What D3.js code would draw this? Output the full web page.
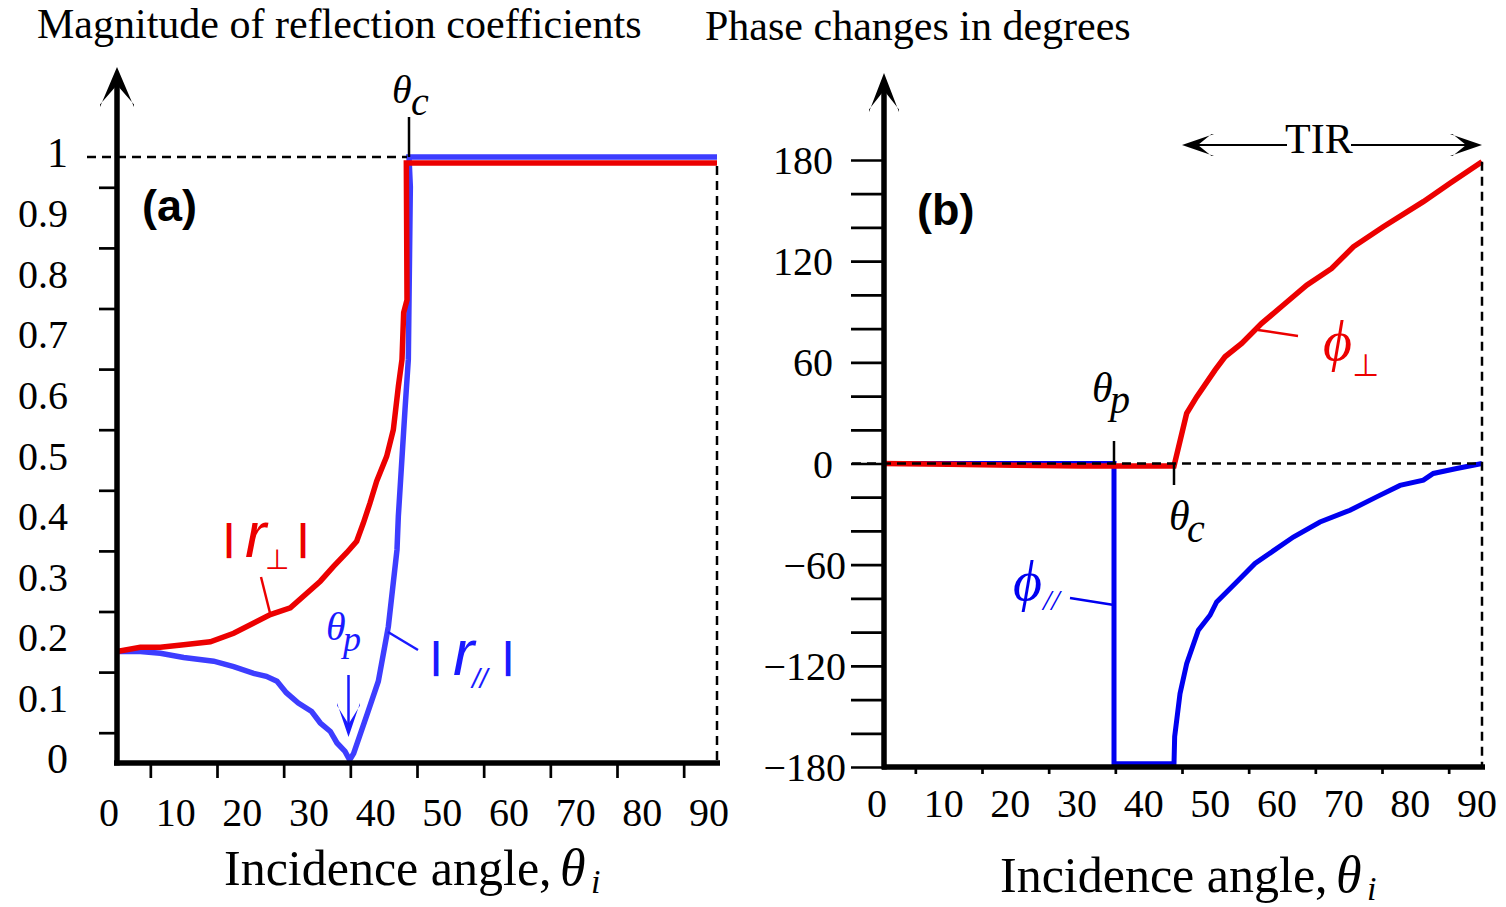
<!DOCTYPE html>
<html>
<head>
<meta charset="utf-8">
<script src="https://cdn.jsdelivr.net/npm/d3@7"></script>
<style>
  html, body { margin: 0; padding: 0; background: #ffffff; }
  svg { display: block; }
</style>
</head>
<body>
<svg id="fig" width="1506" height="907"></svg>
<script>
// ---------- tick values and labels ----------
const angleTicks = [0, 10, 20, 30, 40, 50, 60, 70, 80, 90];
const angleMinorTicks = [5, 15, 25, 35, 45, 55, 65, 75, 85];
const magTicks = [0, 0.1, 0.2, 0.3, 0.4, 0.5, 0.6, 0.7, 0.8, 0.9, 1];
const magMinorTicks = [0.05, 0.15, 0.25, 0.35, 0.45, 0.55, 0.65, 0.75, 0.85, 0.95];
const phaseTicks = [-180, -120, -60, 0, 60, 120, 180];
const phaseMinorTicks = [-160, -140, -100, -80, -40, -20, 20, 40, 80, 100, 140, 160];

// ---------- (a) magnitude of reflection coefficients ----------
const rPerpAngle = [0, 3.5, 6.5, 10, 14, 17.5, 23, 26, 30.5, 32.45, 34.45, 35.95, 36.95, 37.95, 38.95, 40.45, 41.45, 42.2, 42.75, 43.0, 43.5, 43.4, 90];
const rPerpMag   = [0.184, 0.191, 0.191, 0.195, 0.200, 0.214, 0.245, 0.256, 0.300, 0.324, 0.347, 0.366, 0.396, 0.429, 0.465, 0.506, 0.550, 0.621, 0.666, 0.743, 0.764, 0.990, 0.990];

const rParAngle = [0, 3.5, 6.5, 10, 14.5, 17.5, 20.5, 22.4, 24, 25.4, 27.2, 29.2, 30.5, 32, 33, 34.2, 34.9, 35.5, 37.5, 39.2, 40.7, 42, 42.2, 43.2, 43.7, 44.0, 43.8, 90];
const rParMag   = [0.184, 0.184, 0.181, 0.174, 0.168, 0.159, 0.148, 0.143, 0.135, 0.116, 0.099, 0.085, 0.066, 0.052, 0.033, 0.019, 0.005, 0.016, 0.080, 0.135, 0.225, 0.352, 0.407, 0.583, 0.666, 0.951, 1.0, 1.0];

// ---------- (b) phase changes ----------
const phiPerpAngle = [0, 10, 20, 30, 40, 43.8, 45.7, 47.2, 49.95, 51.45, 53.95, 56.95, 60.2, 63.7, 67.45, 70.7, 75.2, 81.2, 85.2, 90];
const phiPerpDeg   = [0, -0.5, -1, -1.5, -1.5, -1.5, 29.7, 39.5, 55.4, 63.3, 71.2, 83.1, 94, 105.8, 115.7, 128.5, 140.4, 155.3, 166.2, 179];

const phiParAngle = [0, 34.8, 34.8, 43.8, 43.9, 44.7, 45.7, 47.45, 49.2, 50.2, 53.2, 55.95, 61.7, 65.7, 70.2, 74.2, 77.7, 81.2, 82.7, 86.2, 90];
const phiParDeg   = [0, 0, -178, -178, -162, -136.5, -118.7, -98.9, -90, -82.1, -70.3, -59.3, -43.6, -34.7, -27.7, -19.8, -13, -9.9, -5.9, -3, 0];

// special angles
const thetaC = 43.8;
const thetaP = 34.8;

// ---------- styling ----------
const RED = "#ec0000";
const BLUE_A = "#3d3dff";
const BLUE_B = "#0000f0";
const LABEL_BLUE = "#1a1aff";
const SERIF = "'Liberation Serif', 'Times New Roman', serif";
const SANS = "'Liberation Sans', Arial, sans-serif";
const SYMBOL = "'DejaVu Sans', sans-serif";

const svg = d3.select("#fig");

// ---------- scales ----------
const xMag = d3.scaleLinear().domain([0, 90]).range([117, 717]);
const yMag = d3.scaleLinear().domain([0, 1]).range([763, 157]);
const xPh = d3.scaleLinear().domain([0, 90]).range([882, 1482]);
const yPh = d3.scaleLinear().domain([-180, 180]).range([767, 160]);

const zip = (a, b) => a.map((v, i) => [v, b[i]]);

// filled "stealth" arrowhead pointing along angle (deg), tip at (x, y)
function arrowHead(g, x, y, angle, L, H, notch, color) {
  const pts = [[0, 0], [-L, -H], [-L + 2.5, -H], [-notch * L, 0], [-L + 2.5, H], [-L, H]];
  g.append("path")
    .attr("d", "M" + pts.map(p => p.join(",")).join("L") + "Z")
    .attr("transform", `translate(${x},${y}) rotate(${angle})`)
    .attr("fill", color);
}

// one text element made of positioned pieces (symbols with sub-scripts etc.)
function rich(g, parts, fill) {
  const t = g.append("text").attr("fill", fill || "#000");
  parts.forEach(p => {
    t.append("tspan")
      .attr("x", p.x).attr("y", p.y)
      .attr("font-family", p.family || SERIF)
      .attr("font-size", p.size || 40)
      .attr("font-style", p.style || "normal")
      .attr("font-weight", p.weight || "normal")
      .text(p.t);
  });
  return t;
}

function seg(g, x1, y1, x2, y2, color, w, dash) {
  const l = g.append("line")
    .attr("x1", x1).attr("y1", y1).attr("x2", x2).attr("y2", y2)
    .attr("stroke", color).attr("stroke-width", w);
  if (dash) l.attr("stroke-dasharray", dash);
  return l;
}

// ======================= panel (a) =======================
const ga = svg.append("g");

const magLine = d3.line().x(d => xMag(d[0])).y(d => yMag(d[1]));

ga.append("path").datum(zip(rParAngle, rParMag))
  .attr("d", magLine).attr("fill", "none")
  .attr("stroke", BLUE_A).attr("stroke-width", 5.5).attr("stroke-linejoin", "miter");
ga.append("path").datum(zip(rPerpAngle, rPerpMag))
  .attr("d", magLine).attr("fill", "none")
  .attr("stroke", RED).attr("stroke-width", 5.5).attr("stroke-linejoin", "miter");

// reference lines at |r| = 1 and θi = 90°
seg(ga, 87, yMag(1), xMag(thetaC) - 2, yMag(1), "#000", 2.5, "9,6");
seg(ga, xMag(90), yMag(0.985), xMag(90), yMag(0), "#000", 2.5, "9,6");

// axis ticks
const yAxisA = ga.append("g").attr("transform", `translate(${xMag(0)},0)`);
yAxisA.call(d3.axisLeft(yMag).tickValues(magTicks).tickSize(30).tickFormat(""));
yAxisA.call(d3.axisLeft(yMag).tickValues(magMinorTicks).tickSize(18).tickFormat(""));
const xAxisA = ga.append("g").attr("transform", `translate(0,${yMag(0)})`);
xAxisA.call(d3.axisBottom(xMag).tickValues(angleTicks).tickSize(27).tickFormat(""));
xAxisA.call(d3.axisBottom(xMag).tickValues(angleMinorTicks).tickSize(15).tickFormat(""));
ga.selectAll(".domain").remove();
ga.selectAll(".tick line").attr("stroke", "#000").attr("stroke-width", 2.7);

// axis lines
seg(ga, xMag(0), yMag(0) + 2.5, xMag(0), 80, "#000", 5.5);
seg(ga, xMag(0) - 3, yMag(0), xMag(90) + 3, yMag(0), "#000", 5.5);
arrowHead(ga, xMag(0), 67, -90, 40, 17, 0.45, "#000");

// tick labels
ga.selectAll("text.ylab").data(magTicks).enter().append("text")
  .attr("class", "ylab")
  .attr("x", 68).attr("y", d => yMag(d) + 9.5)
  .attr("text-anchor", "end")
  .attr("font-family", SERIF)
  .attr("font-size", d => (d === 0 || d === 1) ? 42 : 40)
  .text(d => String(d));
ga.selectAll("text.xlab").data(angleTicks).enter().append("text")
  .attr("class", "xlab")
  .attr("x", d => xMag(d) - 8).attr("y", 826)
  .attr("text-anchor", "middle")
  .attr("font-family", SERIF).attr("font-size", 40)
  .text(d => String(d));

// titles
rich(ga, [{ t: "Magnitude of reflection coefficients", x: 37, y: 38, size: 42 }]);
rich(ga, [
  { t: "Incidence angle,", x: 224, y: 885, size: 50 },
  { t: "θ", x: 560, y: 885, size: 52, style: "italic" },
  { t: "i", x: 591, y: 893, size: 34, style: "italic" }
]);

// panel tag
rich(ga, [{ t: "(a)", x: 142, y: 221, size: 45, family: SANS, weight: "bold" }]);

// critical angle marker
seg(ga, xMag(thetaC), 117, xMag(thetaC), yMag(1), "#000", 2.5);
rich(ga, [
  { t: "θ", x: 392, y: 103, size: 40, style: "italic" },
  { t: "c", x: 411, y: 115, size: 40, style: "italic" }
]);

// |r_perp| label
rich(ga, [
  { t: "|", x: 224, y: 550, size: 36, family: SANS, weight: "bold" },
  { t: "r", x: 245, y: 557, size: 64, family: SANS, style: "italic" },
  { t: "⊥", x: 265, y: 569, size: 28, family: SYMBOL },
  { t: "|", x: 298, y: 550, size: 36, family: SANS, weight: "bold" }
], RED);
seg(ga, 261, 577, 270, 613, RED, 2.5);

// |r_par| label
rich(ga, [
  { t: "|", x: 431, y: 668, size: 36, family: SANS, weight: "bold" },
  { t: "r", x: 453, y: 675, size: 64, family: SANS, style: "italic" },
  { t: "//", x: 472, y: 688, size: 28, family: SANS, style: "italic" },
  { t: "|", x: 503, y: 668, size: 36, family: SANS, weight: "bold" }
], LABEL_BLUE);
seg(ga, 388, 632, 418, 650, LABEL_BLUE, 2.5);

// Brewster angle label and arrow
rich(ga, [
  { t: "θ", x: 326, y: 640, size: 40, style: "italic" },
  { t: "p", x: 343, y: 651, size: 36, style: "italic" }
], LABEL_BLUE);
seg(ga, xMag(thetaP) - 0.5, 675, xMag(thetaP) - 0.5, 725, LABEL_BLUE, 2.5);
arrowHead(ga, xMag(thetaP) - 0.5, 737, 90, 34, 11.5, 0.38, LABEL_BLUE);

// ======================= panel (b) =======================
const gb = svg.append("g");
const phLine = d3.line().x(d => xPh(d[0])).y(d => yPh(d[1]));

gb.append("path").datum(zip(phiParAngle, phiParDeg))
  .attr("d", phLine).attr("fill", "none")
  .attr("stroke", BLUE_B).attr("stroke-width", 5).attr("stroke-linejoin", "miter");
gb.append("path").datum(zip(phiPerpAngle, phiPerpDeg))
  .attr("d", phLine).attr("fill", "none")
  .attr("stroke", RED).attr("stroke-width", 5.5).attr("stroke-linejoin", "miter");

// reference lines at 0° phase and θi = 90°
seg(gb, 852, yPh(0), xPh(90), yPh(0), "#000", 2.5, "9,6");
seg(gb, xPh(90), yPh(179), xPh(90), yPh(-180), "#000", 2.5, "9,6");

// ticks
const yAxisB = gb.append("g").attr("transform", `translate(${xPh(0) + 2},0)`);
yAxisB.call(d3.axisLeft(yPh).tickValues(phaseTicks.concat(phaseMinorTicks)).tickSize(33).tickFormat(""));
const xAxisB = gb.append("g").attr("transform", `translate(0,${yPh(-180)})`);
xAxisB.call(d3.axisBottom(xPh).tickValues(angleTicks).tickSize(14).tickFormat(""));
xAxisB.call(d3.axisBottom(xPh).tickValues(angleMinorTicks).tickSize(7).tickFormat(""));
gb.selectAll(".domain").remove();
gb.selectAll(".tick line").attr("stroke", "#000").attr("stroke-width", 2.7);

// axis lines
seg(gb, xPh(0) + 2, yPh(-180) + 2.5, xPh(0) + 2, 85, "#000", 5.5);
seg(gb, xPh(0), yPh(-180), xPh(90) + 3, yPh(-180), "#000", 5.5);
arrowHead(gb, xPh(0) + 2, 73, -90, 39, 15, 0.45, "#000");

// tick labels
gb.selectAll("text.ylab").data(phaseTicks).enter().append("text")
  .attr("class", "ylab")
  .attr("x", d => d < 0 ? 846 : 833).attr("y", d => yPh(d) + 14)
  .attr("text-anchor", "end")
  .attr("font-family", SERIF).attr("font-size", 40)
  .text(d => d < 0 ? "\u2212" + Math.abs(d) : String(d));
gb.selectAll("text.xlab").data(angleTicks).enter().append("text")
  .attr("class", "xlab")
  .attr("x", d => xPh(d) - 5).attr("y", 817)
  .attr("text-anchor", "middle")
  .attr("font-family", SERIF).attr("font-size", 40)
  .text(d => String(d));

// titles
rich(gb, [{ t: "Phase changes in degrees", x: 705, y: 40, size: 42 }]);
rich(gb, [
  { t: "Incidence angle,", x: 1000, y: 892, size: 50 },
  { t: "θ", x: 1336, y: 892, size: 52, style: "italic" },
  { t: "i", x: 1367, y: 900, size: 34, style: "italic" }
]);

// panel tag
rich(gb, [{ t: "(b)", x: 917, y: 225, size: 45, family: SANS, weight: "bold" }]);

// TIR range
rich(gb, [{ t: "TIR", x: 1285, y: 153, size: 42 }]);
seg(gb, 1190, 145, 1287, 145, "#000", 2.2);
seg(gb, 1351, 145, 1474, 145, "#000", 2.2);
arrowHead(gb, 1182, 145, 180, 32, 11, 0.5, "#000");
arrowHead(gb, 1482, 145, 0, 32, 11, 0.5, "#000");

// Brewster and critical angle markers
seg(gb, xPh(thetaP), 441, xPh(thetaP), yPh(0), "#000", 2.5);
rich(gb, [
  { t: "θ", x: 1092, y: 402, size: 42, style: "italic" },
  { t: "p", x: 1110, y: 413, size: 40, style: "italic" }
]);
seg(gb, xPh(thetaC), yPh(0), xPh(thetaC), 485, "#000", 2.5);
rich(gb, [
  { t: "θ", x: 1169, y: 530, size: 42, style: "italic" },
  { t: "c", x: 1187, y: 542, size: 40, style: "italic" }
]);

// φ⊥ label
rich(gb, [
  { t: "\u03D5", x: 1323, y: 360, size: 56, style: "italic" },
  { t: "⊥", x: 1352, y: 376, size: 31, family: SYMBOL }
], RED);
seg(gb, 1258, 330, 1298, 336, RED, 2.5);

// φ∥ label
rich(gb, [
  { t: "\u03D5", x: 1013, y: 600, size: 56, style: "italic" },
  { t: "//", x: 1043, y: 610, size: 30, style: "italic" }
], BLUE_B);
seg(gb, 1070, 598, xPh(thetaP), 605, BLUE_B, 2.5);
</script>
</body>
</html>
